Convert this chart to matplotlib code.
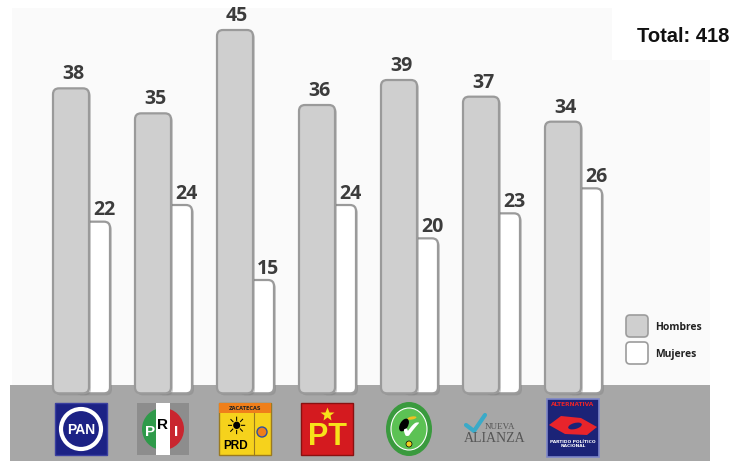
import matplotlib
matplotlib.use("Agg")
import matplotlib.pyplot as plt
from matplotlib.patches import FancyBboxPatch, Rectangle, Circle, Ellipse, Polygon

# data
partidos = ["PAN", "PRI", "PRD", "PT", "PVEM", "NUEVA ALIANZA", "ALTERNATIVA"]
hombres = [38, 35, 45, 36, 39, 37, 34]
mujeres = [22, 24, 15, 24, 20, 23, 26]
leyenda = ["Hombres", "Mujeres"]
total = sum(hombres) + sum(mujeres)

W, H = 731, 463
NARROW = ["Liberation Sans Narrow", "Liberation Sans", "DejaVu Sans"]
fig = plt.figure(figsize=(W / 100, H / 100), dpi=100)

# background layer in pixel units
bg = fig.add_axes([0, 0, 1, 1])
bg.set_xlim(0, W)
bg.set_ylim(H, 0)
bg.axis("off")
bg.add_patch(Rectangle((12, 8), 698, 378, color="#fafafa", lw=0))
bg.add_patch(Rectangle((612, 0), 119, 60, color="white", lw=0))
bg.add_patch(Rectangle((10, 385), 700, 76, color="#a7a7a7", lw=0))
bg.text(729, 36, f"Total: {total}", ha="right", va="center", fontsize=14.5,
        fontweight="bold", family=["Liberation Sans", "Arial", "DejaVu Sans"], color="#111111")

# legend
for k, (lab, fc) in enumerate(zip(leyenda, ["#cfcfcf", "white"])):
    y = 315 + 27 * k
    bg.add_patch(FancyBboxPatch((626, y), 22, 22, boxstyle="round,pad=0,rounding_size=4",
                                fc=fc, ec="#9c9c9c", lw=1.2))
    bg.text(655, y + 12, lab, ha="left", va="center", fontsize=7.5,
            fontweight="bold", family="Open Sans", color="#222222")

# bars, value scale: 0 at y=405 px, 8.33 px per seat, 82 px between groups
ax = fig.add_axes([0, 0, 1, 1])
ax.set_xlim(-71 / 82, (W - 71) / 82)
ax.set_ylim((405 - H) / 8.333, 405 / 8.333)
ax.axis("off")
ax.patch.set_alpha(0)

base = 1.4
bw = 36 / 82
off = 21 / 82
r = 6 / 82
asp = (1 / 8.333) / (1 / 82)


def barra(x, v, fc, z):
    sh = FancyBboxPatch((x - bw / 2 + 2 / 82, base - 2 / 8.333), bw, v - base,
                        boxstyle=f"round,pad=0,rounding_size={r}", mutation_aspect=asp,
                        fc="#777777", ec="none", alpha=0.35, zorder=z - 0.5)
    ax.add_patch(sh)
    p = FancyBboxPatch((x - bw / 2, base), bw, v - base,
                       boxstyle=f"round,pad=0,rounding_size={r}", mutation_aspect=asp,
                       fc=fc, ec="#9a9a9a", lw=1.6, zorder=z)
    ax.add_patch(p)


for i in range(len(partidos)):
    barra(i + off, mujeres[i], "white", 2)
    barra(i, hombres[i], "#cfcfcf", 4)
    ax.annotate(str(hombres[i]), (i + 2 / 82, hombres[i]), xytext=(0, 6.5),
                textcoords="offset points", ha="center", va="baseline", fontsize=14,
                fontweight="bold", family="Open Sans", color="#3c3c3c", zorder=6)
    ax.annotate(str(mujeres[i]), (i + 33 / 82, mujeres[i]), xytext=(0, 4.5),
                textcoords="offset points", ha="center", va="baseline", fontsize=14,
                fontweight="bold", family="Open Sans", color="#3c3c3c", zorder=6)

# party logos (simplified), centred under each group
cy = 429
s = 26
for i, nombre in enumerate(partidos):
    cx = 71 + 82 * i + 10
    if nombre == "PAN":
        bg.add_patch(Rectangle((cx - s, cy - s), 2 * s, 2 * s, fc="#1c2285", ec="#3a3fa0", lw=1))
        bg.add_patch(Circle((cx, cy), 20, fc="#1c2285", ec="white", lw=3))
        bg.text(cx, cy + 1, "PAN", ha="center", va="center", fontsize=10, fontweight="bold",
                family=NARROW, color="white")
    elif nombre == "PRI":
        bg.add_patch(Rectangle((cx - s, cy - s), 2 * s, 2 * s, fc="#8d8d8d", lw=0))
        c = Circle((cx, cy), 21, fc="none", lw=0)
        bg.add_patch(c)
        for x0, col in [(cx - 21, "#2f9a4a"), (cx + 7, "#c9262f")]:
            rr = Rectangle((x0, cy - 21), 14, 42, fc=col, lw=0)
            bg.add_patch(rr)
            rr.set_clip_path(c)
        bg.add_patch(Rectangle((cx - 7, cy - s), 14, 2 * s, fc="white", lw=0))
        bg.text(cx - 13, cy + 3, "P", ha="center", va="center", fontsize=11, fontweight="bold",
                family=NARROW, color="white")
        bg.text(cx, cy - 4, "R", ha="center", va="center", fontsize=11, fontweight="bold",
                family=NARROW, color="black")
        bg.text(cx + 13, cy + 3, "I", ha="center", va="center", fontsize=11, fontweight="bold",
                family=NARROW, color="white")
    elif nombre == "PRD":
        bg.add_patch(Rectangle((cx - s, cy - s), 2 * s, 2 * s, fc="#f6d21c", ec="#9a7a20", lw=1))
        bg.add_patch(Rectangle((cx - s, cy - s), 2 * s, 10, fc="#ef7f1a", lw=0))
        bg.text(cx, cy - s + 5, "ZACATECAS", ha="center", va="center", fontsize=3.6,
                fontweight="bold", color="#222222")
        bg.plot([cx + 9, cx + 9], [cy - s + 10, cy + s], color="#9a7a20", lw=0.8)
        bg.text(cx - 9, cy - 2, "\u2600", ha="center", va="center", fontsize=17,
                family="DejaVu Sans", color="black")
        bg.text(cx - 9, cy + 17, "PRD", ha="center", va="center", fontsize=8.5,
                fontweight="bold", family="Liberation Sans", color="black")
        bg.add_patch(Circle((cx + 17, cy + 3), 5, fc="#ef7f1a", ec="#3050a0", lw=1))
    elif nombre == "PT":
        bg.add_patch(Rectangle((cx - s, cy - s), 2 * s, 2 * s, fc="#d41a1f", ec="#8a1010", lw=1))
        bg.plot(cx, cy - 15, marker="*", ms=10, color="#f7e21a", mec="none")
        bg.text(cx, cy + 8, "PT", ha="center", va="center", fontsize=22, fontweight="bold",
                family=NARROW, color="#f7e21a")
    elif nombre == "PVEM":
        bg.add_patch(Ellipse((cx, cy), 46, 54, fc="#3a9a3e", lw=0))
        bg.add_patch(Ellipse((cx, cy), 36, 42, fc="#5cc254", ec="white", lw=0.8))
        bg.text(cx + 2, cy + 2, "\u2714", ha="center", va="center", fontsize=18,
                family="DejaVu Sans", color="white")
        bg.add_patch(Ellipse((cx - 5, cy - 4), 8, 14, angle=30, fc="black", lw=0))
        bg.add_patch(Ellipse((cx + 3, cy - 11), 9, 3, angle=-10, fc="#f0c020", lw=0))
        bg.add_patch(Circle((cx, cy + 15), 3, fc="#f0d020", ec="black", lw=0.5))
    elif nombre == "NUEVA ALIANZA":
        bg.plot([cx - 25, cx - 17, cx - 6], [cy - 4, cy + 2, cy - 14], color="#3aaac8",
                lw=3, solid_capstyle="round")
        bg.text(cx - 6, cy - 2, "NUEVA", ha="left", va="center", fontsize=6.5,
                family="Liberation Serif", color="#555555")
        bg.text(cx - 27, cy + 9, "ALIANZA", ha="left", va="center", fontsize=10,
                family="Liberation Serif", color="#555555")
    else:
        bg.add_patch(Rectangle((cx - s, cy - s - 4), 2 * s, 2 * s + 6, fc="#1b2377",
                               ec="#7d86c8", lw=1.2))
        bg.text(cx, cy - s + 1, "ALTERNATIVA", ha="center", va="center", fontsize=4.2,
                fontweight="bold", color="#e8242b")
        bg.add_patch(Polygon([(cx - 24, cy - 4), (cx - 12, cy - 13), (cx + 8, cy - 11),
                              (cx + 24, cy - 2), (cx + 14, cy + 6), (cx - 8, cy + 5)],
                             fc="#e8242b", lw=0))
        bg.add_patch(Ellipse((cx + 2, cy - 3), 14, 6, angle=-15, fc="#1b2377", lw=0))
        bg.text(cx, cy + 15, "PARTIDO POLÍTICO\nNACIONAL", ha="center", va="center",
                fontsize=3.2, fontweight="bold", color="white", linespacing=1.3)

fig.savefig("out.png", dpi=100)
